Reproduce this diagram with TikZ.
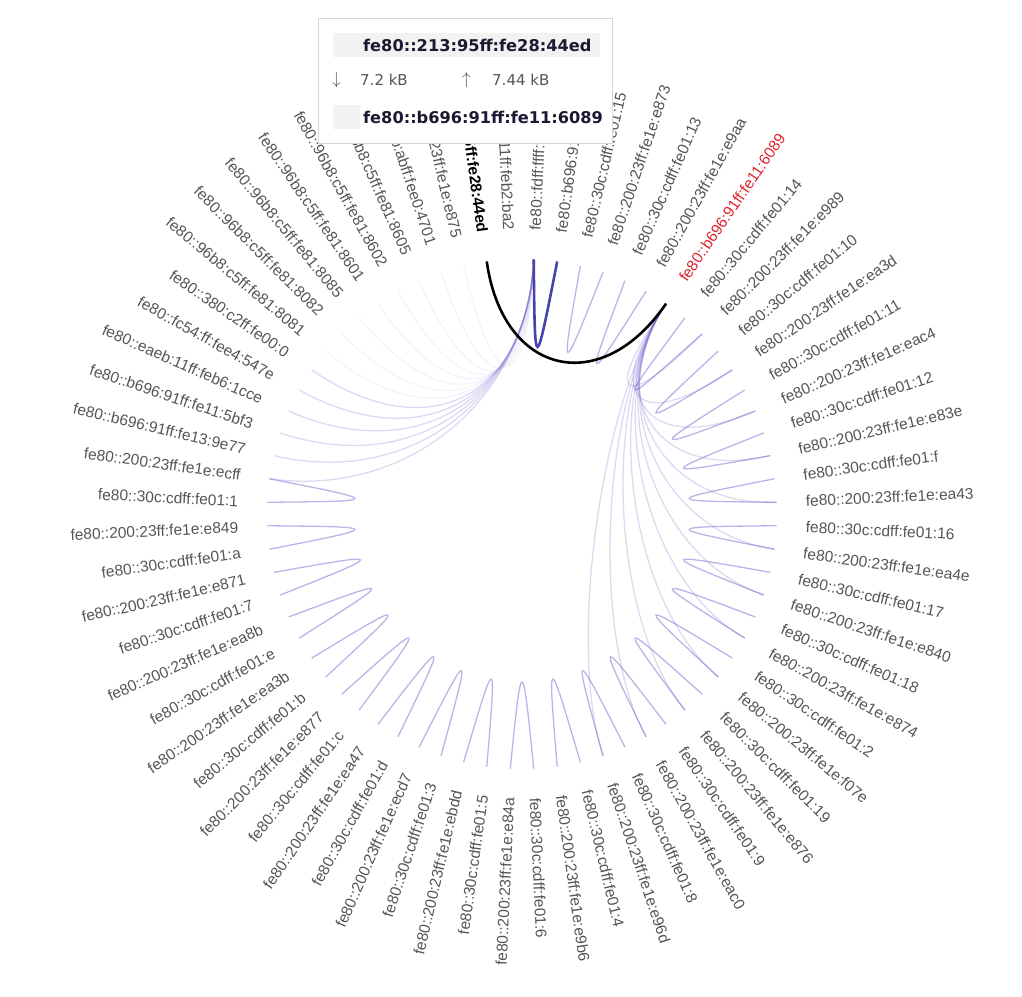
\documentclass[tikz,border=0pt]{standalone}
\usepackage{fontspec}
\setmainfont{Liberation Sans}
\newfontfamily\tipfont{DejaVu Sans}

\definecolor{labelgray}{RGB}{85,85,85}
\definecolor{linkpurple}{RGB}{120,105,205}
\definecolor{selblue}{RGB}{68,68,170}
\definecolor{tgtred}{RGB}{225,35,45}
\definecolor{tipbar}{RGB}{242,242,242}
\definecolor{tipborder}{RGB}{215,215,215}
\definecolor{tipink}{RGB}{25,25,50}

\begin{document}
\begin{tikzpicture}[x = 1pt, y = 1pt,
	lbl/.style = {inner sep = 0pt, text = labelgray, font = \fontsize{15.5}{18}\selectfont},
	lblsel/.style = {lbl, text = black, font = \fontsize{15.5}{18}\selectfont\bfseries},
	lbltgt/.style = {lbl, text = tgtred},
	link/.style = {draw = linkpurple, line width = 1.3pt, opacity = 0.5},
	hublink/.style = {link, opacity = 0.25},
	faint/.style = {link, opacity = 0.08},
	sellink/.style = {draw = selblue, line width = 2.6pt},
	hilite/.style = {draw = black, line width = 2.6pt},
	tipbox/.style = {draw = tipborder, fill = white, line width = 1pt, inner sep = 0pt},
	tiptext/.style = {inner sep = 0pt, anchor = west, text = tipink, font = \tipfont\fontsize{16.2}{18}\selectfont\bfseries},
	tipnum/.style = {inner sep = 0pt, anchor = west, text = labelgray, font = \tipfont\fontsize{15}{18}\selectfont}]

	\useasboundingbox (-522, -482) rectangle (500, 514);

	% Hosts round the circle

	\foreach \txt [count = \k from 0] in {
		fe80::fdff:ffff:fe1b:8a2, fe80::b696:91ff:fe12:3f0, fe80::30c:cdff:fe01:15, fe80::200:23ff:fe1e:e873,
		fe80::30c:cdff:fe01:13, fe80::200:23ff:fe1e:e9aa, fe80::b696:91ff:fe11:6089, fe80::30c:cdff:fe01:14,
		fe80::200:23ff:fe1e:e989, fe80::30c:cdff:fe01:10, fe80::200:23ff:fe1e:ea3d, fe80::30c:cdff:fe01:11,
		fe80::200:23ff:fe1e:eac4, fe80::30c:cdff:fe01:12, fe80::200:23ff:fe1e:e83e, fe80::30c:cdff:fe01:f,
		fe80::200:23ff:fe1e:ea43, fe80::30c:cdff:fe01:16, fe80::200:23ff:fe1e:ea4e, fe80::30c:cdff:fe01:17,
		fe80::200:23ff:fe1e:e840, fe80::30c:cdff:fe01:18, fe80::200:23ff:fe1e:e874, fe80::30c:cdff:fe01:2,
		fe80::200:23ff:fe1e:f07e, fe80::30c:cdff:fe01:19, fe80::200:23ff:fe1e:e876, fe80::30c:cdff:fe01:9,
		fe80::200:23ff:fe1e:eac0, fe80::30c:cdff:fe01:8, fe80::200:23ff:fe1e:e96d, fe80::30c:cdff:fe01:4,
		fe80::200:23ff:fe1e:e9b6, fe80::30c:cdff:fe01:6, fe80::200:23ff:fe1e:e84a, fe80::30c:cdff:fe01:5,
		fe80::200:23ff:fe1e:ebdd, fe80::30c:cdff:fe01:3, fe80::200:23ff:fe1e:ecd7, fe80::30c:cdff:fe01:d,
		fe80::200:23ff:fe1e:ea47, fe80::30c:cdff:fe01:c, fe80::200:23ff:fe1e:e877, fe80::30c:cdff:fe01:b,
		fe80::200:23ff:fe1e:ea3b, fe80::30c:cdff:fe01:e, fe80::200:23ff:fe1e:ea8b, fe80::30c:cdff:fe01:7,
		fe80::200:23ff:fe1e:e871, fe80::30c:cdff:fe01:a, fe80::200:23ff:fe1e:e849, fe80::30c:cdff:fe01:1,
		fe80::200:23ff:fe1e:ecff, fe80::b696:91ff:fe13:9e77, fe80::b696:91ff:fe11:5bf3, fe80::eaeb:11ff:feb6:1cce,
		fe80::fc54:ff:fee4:547e, fe80::380:c2ff:fe00:0, fe80::96b8:c5ff:fe81:8081, fe80::96b8:c5ff:fe81:8082,
		fe80::96b8:c5ff:fe81:8085, fe80::96b8:c5ff:fe81:8601, fe80::96b8:c5ff:fe81:8602, fe80::96b8:c5ff:fe81:8605,
		fe80::a2ab:abff:fee0:4701, fe80::200:23ff:fe1e:e875, fe80::213:95ff:fe28:44ed, fe80::eaeb:11ff:feb2:ba2}
	{
		\pgfmathsetmacro\a{90 - (\k + 0.5) / 68 * 360}
		\coordinate (n\k) at (\a:255);
		\coordinate (c\k) at (\a:140);
		\coordinate (h\k) at (\a:115);
		\def\sty{lbl}
		\ifnum\k=66 \def\sty{lblsel}\fi
		\ifnum\k=6 \def\sty{lbltgt}\fi
		\ifnum\k<34
			\node [\sty, anchor = west, rotate = \a] (l\k) at (\a:284) {\txt};
		\else
			\node [\sty, anchor = east, rotate = \a + 180] (l\k) at (\a:284) {\txt};
		\fi
	}

	% Links between neighbours

	\foreach \i/\j in {0/1, 2/3, 4/5, 7/8, 9/10, 11/12, 13/14, 15/16, 17/18, 19/20, 21/22, 23/24, 25/26, 27/28,
		29/30, 31/32, 33/34, 35/36, 37/38, 39/40, 41/42, 43/44, 45/46, 47/48, 49/50, 51/52}
	{
		\pgfmathsetmacro\m{90 - (\i + 1) / 68 * 360}
		\coordinate (m\i) at (\m:139);
	}

	\foreach \i/\j in {2/3, 4/5, 7/8, 9/10, 11/12, 13/14, 15/16, 17/18, 19/20, 21/22, 23/24, 25/26, 27/28,
		29/30, 31/32, 33/34, 35/36, 37/38, 39/40, 41/42, 43/44, 45/46, 47/48, 49/50, 51/52}
		\draw [link] (n\i) .. controls (m\i) .. (n\j);

	% Bundles

	\foreach \j in {8, 10, ..., 30}
		\draw [hublink] (n6) .. controls (c6) and (c\j) .. (n\j);

	\foreach \j in {52, ..., 57}
		\draw [hublink] (n0) .. controls (h0) and (h\j) .. (n\j);

	\foreach \j in {58, ..., 65}
		\draw [faint] (n0) .. controls (h0) and (h\j) .. (n\j);

	% Selected links

	\draw [sellink] (n0) .. controls (m0) .. (n1);
	\draw [hilite] (n66) .. controls (c66) and (c6) .. (n6);

	% Tooltip

	\node [tipbox, anchor = north west, minimum width = 294pt, minimum height = 125pt] (tip) at (-204, 496) {};
	\fill [tipbar] (-189, 481) rectangle (78, 457);
	\fill [tipbar] (-189, 409) rectangle (-162, 385);
	\node [tiptext] (src) at (-159, 469) {fe80::213:95ff:fe28:44ed};
	\node [tipnum, font = \fontsize{19}{20}\selectfont] (down) at (-190, 434) {$\downarrow$};
	\node [tipnum] (rx) at (-162, 434) {7.2 kB};
	\node [tipnum, font = \fontsize{19}{20}\selectfont] (up) at (-60, 434) {$\uparrow$};
	\node [tipnum] (tx) at (-30, 434) {7.44 kB};
	\node [tiptext] (dst) at (-159, 397) {fe80::b696:91ff:fe11:6089};

\end{tikzpicture}
\end{document}
